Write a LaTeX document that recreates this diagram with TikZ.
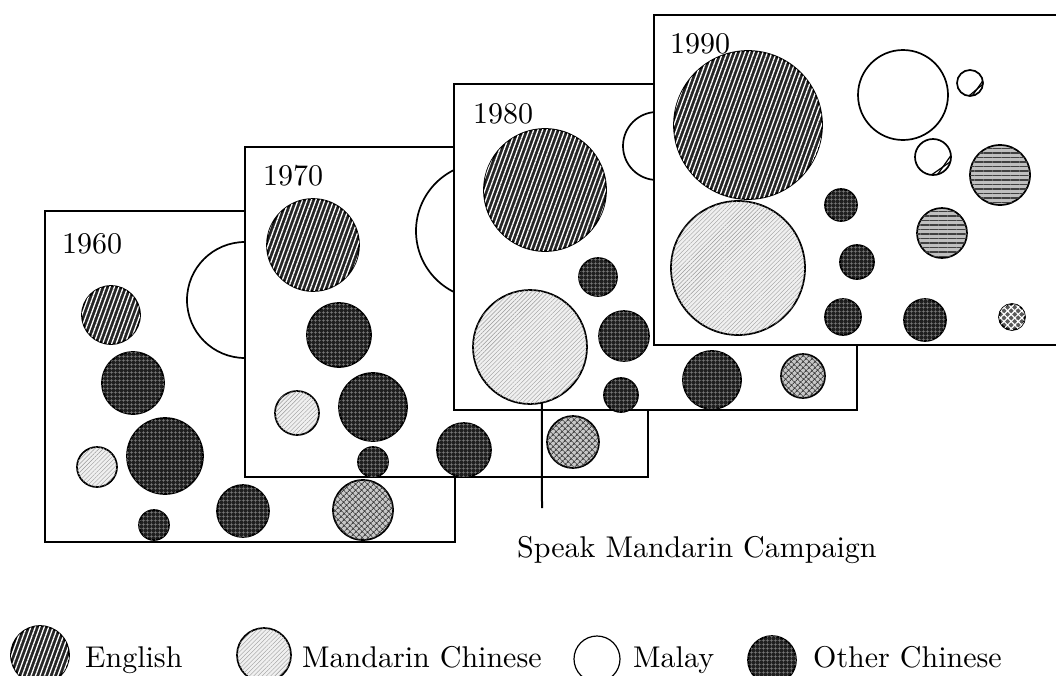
\documentclass[tikz,border=0pt]{standalone}
\usepackage{fontspec}
\setmainfont{lmroman10-regular}[Extension=.otf]
\usetikzlibrary{patterns,patterns.meta,shapes.geometric}
\begin{document}
\begin{tikzpicture}[x=1pt,y=-1pt,
  panel/.style={draw=black, line width=2pt, fill=white},
  blob/.style={circle, inner sep=0pt, outer sep=0pt, line width=1.7pt, draw=black},
  rad/.style={minimum size={2*#1pt}},
  eng/.style={blob, fill=black!85,
    postaction={pattern={Lines[angle=70,distance=4.2pt,line width=1.3pt]}, pattern color=white}},
  mand/.style={blob, fill=black!6,
    postaction={pattern={Lines[angle=45,distance=3pt,line width=0.4pt]}, pattern color=black!40}},
  malay/.style={blob, fill=white},
  oth/.style={blob, fill=black!88,
    postaction={pattern={Hatch[angle=0,distance=4pt,line width=0.6pt]}, pattern color=black!50}},
  dial/.style={blob, fill=black!22,
    postaction={pattern={Hatch[angle=45,distance=4pt,line width=0.9pt]}, pattern color=black!75}},
  striped/.style={blob, fill=black!25,
    postaction={pattern={Lines[angle=0,distance=4.5pt,line width=1.3pt]}, pattern color=black!75}},
  spotted/.style={blob, fill=black!65,
    postaction={pattern={Hatch[angle=45,distance=5pt,line width=1.2pt]}, pattern color=white}},
  year/.style={anchor=base west, inner sep=0pt, font=\fontsize{30}{36}\selectfont},
  lbl/.style={anchor=base west, inner sep=0pt, font=\fontsize{30}{36}\selectfont},
  key/.style={ellipse, inner sep=0pt}
]
\useasboundingbox (0,0) rectangle (1056,675);

% ---- 1960 ----
\draw[panel] (45,211) rectangle (455,542);
\node[year] (y60) at (62,253) {1960};
\node[malay, rad=58] (ma60) at (245,300) {};
\node[eng,  rad=29] (en60) at (111,315) {};
\node[oth,  rad=31] (oa60) at (133,383) {};
\node[oth,  rad=38] (ob60) at (165,456) {};
\node[mand, rad=20] (md60) at (97,467) {};
\node[oth,  rad=15] (oc60) at (154,525) {};
\node[oth,  rad=26] (od60) at (243,511) {};
\node[dial, rad=30] (di60) at (363,510) {};

% ---- 1970 ----
\draw[panel] (245,147) rectangle (648,477);
\node[year] (y70) at (263,185) {1970};
\node[malay, rad=68] (ma70) at (484,231) {};
\node[eng,  rad=46] (en70) at (313,245) {};
\node[oth,  rad=32] (oa70) at (339,335) {};
\node[mand, rad=22] (md70) at (297,413) {};
\node[oth,  rad=34] (ob70) at (373,407) {};
\node[oth,  rad=15] (oc70) at (373,462) {};
\node[oth,  rad=27] (od70) at (464,450) {};
\node[dial, rad=26] (di70) at (573,442) {};

% ---- 1980 ----
\draw[panel] (454,84) rectangle (857,410);
\node[year] (y80) at (473,123) {1980};
\node[malay, rad=34] (ma80) at (657,146) {};
\node[eng,  rad=61] (en80) at (545,190) {};
\node[oth,  rad=19] (oa80) at (598,277) {};
\node[mand, rad=57] (md80) at (530,347) {};
\node[oth,  rad=25] (ob80) at (624,336) {};
\node[oth,  rad=17] (oc80) at (621,395) {};
\node[oth,  rad=29] (od80) at (712,380) {};
\node[dial, rad=22] (di80) at (803,376) {};

% ---- 1990 ----
\draw[panel] (654,15) rectangle (1062,345);
\node[year] (y90) at (670,53) {1990};
\node[eng,  rad=74] (en90) at (748,125) {};
\node[mand, rad=67] (md90) at (738,268) {};
\node[malay, rad=45] (ma90) at (903,95) {};
\node[malay, rad=13] (wa90) at (970,83) {};
\node[malay, rad=18] (wb90) at (933,157) {};
\node[striped, rad=30] (sa90) at (1000,175) {};
\node[striped, rad=25] (sb90) at (942,233) {};
\node[oth,  rad=16] (oa90) at (841,205) {};
\node[oth,  rad=17] (ob90) at (857,262) {};
\node[oth,  rad=18] (oc90) at (843,317) {};
\node[oth,  rad=21] (od90) at (925,320) {};
\node[spotted, rad=13] (sp90) at (1012,317) {};
% short diagonal strokes inside the two small open circles
\begin{scope}[line width=1.2pt]
  \draw (wa90.-80) -- (wa90.10);
  \draw (wa90.-95) -- (wa90.-5);
  \draw (wb90.-75) -- (wb90.5);
  \draw (wb90.-95) -- (wb90.-15);
\end{scope}

% ---- campaign marker ----
\node[lbl] (smc) at (517,557) {Speak Mandarin Campaign};
\coordinate (smcend) at (542,508);
\draw[line width=2pt] (md80.-78) -- (smcend);

% ---- key ----
\node[key, eng, minimum width=58pt, minimum height=38pt] (k1) at (40,655) {};
\node[lbl] (t1) at (85,667) {English};
\node[key, mand, minimum width=54pt, minimum height=38pt] (k2) at (264,655) {};
\node[lbl] (t2) at (302,667) {Mandarin Chinese};
\node[key, malay, line width=1.2pt, minimum width=46pt, minimum height=30pt] (k3) at (597,659) {};
\node[lbl] (t3) at (633,667) {Malay};
\node[key, oth, minimum width=48pt, minimum height=30pt] (k4) at (772,660) {};
\node[lbl] (t4) at (813,667) {Other Chinese};
\end{tikzpicture}
\end{document}
